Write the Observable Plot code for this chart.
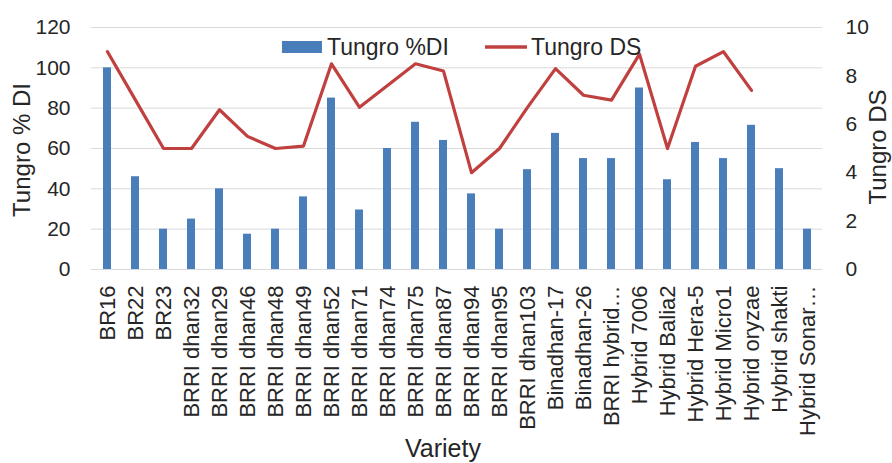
<!DOCTYPE html>
<html>
<head>
<meta charset="utf-8">
<script src="https://cdn.jsdelivr.net/npm/d3@7"></script>
<script src="https://cdn.jsdelivr.net/npm/@observablehq/plot@0.6"></script>
<style>
  body { margin: 0; background: #fff; }
  #chart svg { display: block; }
</style>
</head>
<body>
<div id="chart"></div>
<script>
// Rice varieties screened for tungro
const varieties = [
  "BR16", "BR22", "BR23", "BRRI dhan32", "BRRI dhan29", "BRRI dhan46",
  "BRRI dhan48", "BRRI dhan49", "BRRI dhan52", "BRRI dhan71", "BRRI dhan74",
  "BRRI dhan75", "BRRI dhan87", "BRRI dhan94", "BRRI dhan95", "BRRI dhan103",
  "Binadhan-17", "Binadhan-26", "BRRI hybrid…", "Hybrid 7006", "Hybrid Balia2",
  "Hybrid Hera-5", "Hybrid Micro1", "Hybrid oryzae", "Hybrid shakti", "Hybrid Sonar…"
];
// Disease incidence (%), left axis
const diValues = [
  100, 46, 20, 25, 40, 17.5, 20, 36, 85, 29.5, 60, 73, 64, 37.5, 20, 49.5,
  67.5, 55, 55, 90, 44.5, 63, 55, 71.5, 50, 20
];
// Disease severity score, right axis (no score for the last two)
const dsValues = [
  9, 7, 5, 5, 6.6, 5.5, 5, 5.1, 8.5, 6.7, 7.6, 8.5, 8.2, 4, 5, 6.7,
  8.3, 7.2, 7.0, 8.9, 5, 8.4, 9, 7.4, null, null
];
const diTicks = [0, 20, 40, 60, 80, 100, 120];
const dsTicks = [0, 2, 4, 6, 8, 10];
const seriesNames = ["Tungro %DI", "Tungro DS"];
const leftTitle = "Tungro % DI";
const rightTitle = "Tungro DS";
const xTitle = "Variety";

const BLUE = "#4a7ebb";
const RED = "#c0403f";
const INK = "#262626";

// The DS scale (0–10) is mapped onto the DI scale (0–120)
const diMax = 120, dsMax = 10, k = diMax / dsMax;

const rows = varieties.map((v, i) => ({ variety: v, di: diValues[i], ds: dsValues[i] }));

const chart = Plot.plot({
  width: 892,
  height: 463,
  marginTop: 27,
  marginBottom: 194,
  marginLeft: 91,
  marginRight: 70,
  style: {
    fontFamily: "'Liberation Sans', Arial, sans-serif",
    fontSize: "21px",
    color: INK,
    background: "#fff",
    overflow: "visible"
  },
  x: { domain: varieties, padding: 0, label: null },
  y: { domain: [0, diMax], label: null },
  marks: [
    Plot.gridY(diTicks, { stroke: "#d9d9d9", strokeOpacity: 1, strokeWidth: 1 }),
    Plot.axisY(diTicks, { anchor: "left", tickSize: 0, tickPadding: 21, label: null, fontSize: 21 }),
    Plot.axisY(dsTicks.map(t => t * k), {
      anchor: "right", tickSize: 0, tickPadding: 23, label: null, fontSize: 21,
      tickFormat: d => d / k
    }),
    Plot.axisX({ tickRotate: -90, tickSize: 0, tickPadding: 16, label: null, fontSize: 22 }),
    Plot.barY(rows, { x: "variety", y: "di", fill: BLUE, insetLeft: 10, insetRight: 10 }),
    Plot.lineY(rows.filter(d => d.ds != null), {
      x: "variety", y: d => d.ds * k, stroke: RED, strokeWidth: 3.2, strokeLinejoin: "round"
    })
  ]
});

const svg = d3.select(chart);
const font = "'Liberation Sans', Arial, sans-serif";

// Legend inside the top of the plot area
const lg = svg.append("g").attr("font-family", font).attr("font-size", 23)
  .attr("fill", INK).attr("text-anchor", "start");
lg.append("rect").attr("x", 282).attr("y", 41).attr("width", 40).attr("height", 12).attr("fill", BLUE);
lg.append("text").attr("x", 327).attr("y", 55).text(seriesNames[0]);
lg.append("line").attr("x1", 485).attr("x2", 527).attr("y1", 47).attr("y2", 47)
  .attr("stroke", RED).attr("stroke-width", 3.5);
lg.append("text").attr("x", 531).attr("y", 55).text(seriesNames[1]);

// Axis titles
const titles = svg.append("g").attr("font-family", font).attr("fill", INK);
titles.append("text")
  .attr("transform", "translate(21,150) rotate(-90)")
  .attr("text-anchor", "middle").attr("dominant-baseline", "central")
  .attr("font-size", 24).text(leftTitle);
titles.append("text")
  .attr("transform", "translate(877,147) rotate(-90)")
  .attr("text-anchor", "middle").attr("dominant-baseline", "central")
  .attr("font-size", 24).text(rightTitle);
titles.append("text")
  .attr("x", 443).attr("y", 457)
  .attr("text-anchor", "middle")
  .attr("font-size", 25).text(xTitle);

document.getElementById("chart").append(chart);
</script>
</body>
</html>
